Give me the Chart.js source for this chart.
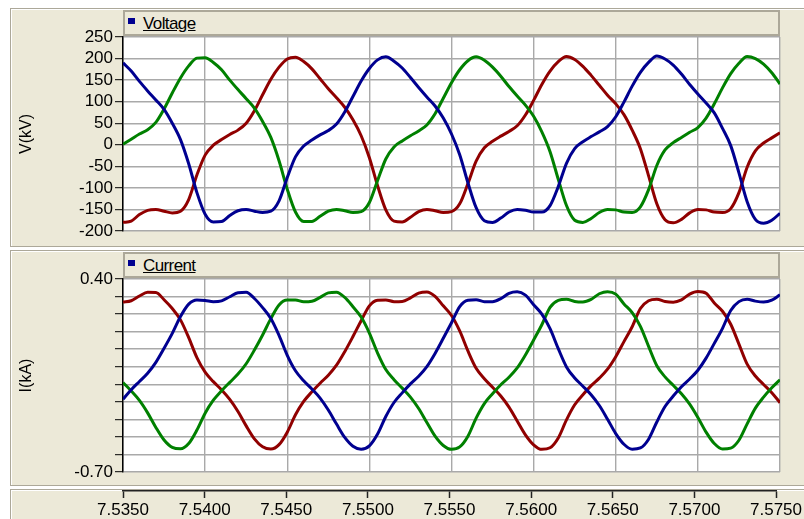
<!DOCTYPE html>
<html>
<head>
<meta charset="utf-8">
<title>Voltage / Current</title>
<script src="https://cdn.jsdelivr.net/npm/chart.js@4.4.1/dist/chart.umd.min.js"></script>
<style>
  html, body { margin: 0; padding: 0; background: #fff; }
  body { width: 804px; height: 519px; position: relative; overflow: hidden; font-family: "Liberation Sans", Arial, sans-serif; }
  .panel { position: absolute; left: 10px; width: 800px; background: #ece9d8; border: 1px solid #aca899; box-shadow: inset 1px 1px 0 #fff; box-sizing: border-box; }
  .legend { position: absolute; left: 123px; width: 657px; height: 26px; box-sizing: border-box; border: 2px solid #aca899; background: #ece9d8; font-size: 17px; color: #000; }
  .legend i { position: absolute; left: 3px; top: 6px; width: 7px; height: 6px; background: #000090; }
  .legend span { position: absolute; left: 18px; top: 2px; text-decoration: underline; letter-spacing: -0.6px; }
  canvas { position: absolute; left: 0; }
</style>
</head>
<body>
<div class="panel" style="top:8px;height:239px"></div>
<div class="panel" style="top:250px;height:236px"></div>
<div class="panel" style="top:489px;height:40px"></div>

<canvas id="voltageChart" width="804" height="250" style="top:0"></canvas>
<canvas id="currentChart" width="804" height="240" style="top:248px"></canvas>
<canvas id="timeAxis" width="804" height="39" style="top:480px"></canvas>

<div class="legend" style="top:10px"><i></i><span>Voltage</span></div>
<div class="legend" style="top:252px"><i></i><span>Current</span></div>

<script>
// time samples (s), every 0.5 ms
const times = [
  7.5350, 7.5355, 7.5360, 7.5365, 7.5370, 7.5375, 7.5380, 7.5385, 7.5390, 7.5395,
  7.5400, 7.5405, 7.5410, 7.5415, 7.5420, 7.5425, 7.5430, 7.5435, 7.5440, 7.5445,
  7.5450, 7.5455, 7.5460, 7.5465, 7.5470, 7.5475, 7.5480, 7.5485, 7.5490, 7.5495,
  7.5500, 7.5505, 7.5510, 7.5515, 7.5520, 7.5525, 7.5530, 7.5535, 7.5540, 7.5545,
  7.5550, 7.5555, 7.5560, 7.5565, 7.5570, 7.5575, 7.5580, 7.5585, 7.5590, 7.5595,
  7.5600, 7.5605, 7.5610, 7.5615, 7.5620, 7.5625, 7.5630, 7.5635, 7.5640, 7.5645,
  7.5650, 7.5655, 7.5660, 7.5665, 7.5670, 7.5675, 7.5680, 7.5685, 7.5690, 7.5695,
  7.5700, 7.5705, 7.5710, 7.5715, 7.5720, 7.5725, 7.5730, 7.5735, 7.5740, 7.5745,
  7.5750
];

// phase voltages (kV)
const voltageBlue = [
  190, 171, 147, 125, 104, 82, 50, 12, -44, -111,
  -161, -179, -178, -164, -153, -150, -154, -157, -154, -130,
  -76, -28, -3, 11, 23, 33, 48, 76, 112, 148,
  177, 197, 204, 194, 178, 156, 133, 111, 90, 62,
  25, -23, -88, -146, -176, -180, -170, -156, -150, -152,
  -156, -156, -141, -97, -43, -9, 7, 19, 30, 42,
  65, 99, 136, 168, 191, 206, 199, 185, 164, 140,
  118, 97, 74, 38, -2, -65, -132, -173, -182, -175,
  -159
];
const voltageGreen = [
  1, 13, 25, 35, 52, 83, 120, 155, 183, 201,
  202, 191, 174, 150, 128, 107, 85, 54, 17, -37,
  -103, -156, -178, -178, -166, -154, -150, -153, -157, -155,
  -134, -83, -33, -5, 9, 21, 32, 46, 72, 108,
  144, 174, 195, 204, 196, 180, 159, 135, 113, 92,
  66, 30, -16, -80, -141, -175, -180, -171, -157, -150,
  -151, -156, -157, -144, -104, -48, -12, 5, 17, 29,
  40, 62, 95, 132, 165, 189, 205, 200, 187, 167,
  141
];
const voltageRed = [
  -180, -177, -162, -152, -150, -154, -158, -154, -127, -70,
  -24, -1, 12, 24, 34, 50, 79, 116, 152, 180,
  199, 203, 193, 176, 153, 130, 109, 87, 58, 21,
  -30, -95, -151, -177, -179, -168, -155, -150, -153, -157,
  -155, -137, -90, -38, -7, 8, 20, 31, 44, 69,
  103, 140, 171, 193, 205, 198, 182, 161, 138, 115,
  95, 70, 34, -9, -72, -137, -174, -181, -173, -158,
  -150, -151, -156, -157, -148, -111, -52, -14, 4, 16,
  28
];

// phase currents (kA)
const currentBlue = [
  -0.285, -0.231, -0.184, -0.137, -0.075, 0.005, 0.090, 0.186, 0.257, 0.281,
  0.278, 0.270, 0.275, 0.299, 0.322, 0.324, 0.289, 0.237, 0.175, 0.079,
  -0.035, -0.123, -0.180, -0.227, -0.279, -0.347, -0.427, -0.503, -0.553, -0.570,
  -0.551, -0.484, -0.384, -0.304, -0.249, -0.198, -0.154, -0.099, -0.024, 0.062,
  0.151, 0.243, 0.279, 0.282, 0.271, 0.271, 0.288, 0.318, 0.327, 0.308,
  0.253, 0.200, 0.117, 0.003, -0.101, -0.164, -0.211, -0.260, -0.321, -0.399,
  -0.481, -0.542, -0.570, -0.563, -0.513, -0.415, -0.327, -0.267, -0.214, -0.170,
  -0.120, -0.051, 0.033, 0.119, 0.220, 0.271, 0.284, 0.274, 0.269, 0.279,
  0.310
];
const currentGreen = [
  -0.190, -0.238, -0.292, -0.363, -0.446, -0.518, -0.560, -0.568, -0.538, -0.461,
  -0.365, -0.291, -0.237, -0.189, -0.142, -0.083, -0.005, 0.081, 0.174, 0.252,
  0.280, 0.280, 0.270, 0.273, 0.295, 0.321, 0.325, 0.295, 0.242, 0.183,
  0.092, -0.022, -0.116, -0.174, -0.222, -0.273, -0.338, -0.418, -0.496, -0.549,
  -0.571, -0.557, -0.496, -0.393, -0.310, -0.254, -0.203, -0.160, -0.107, -0.033,
  0.052, 0.139, 0.238, 0.278, 0.284, 0.272, 0.269, 0.284, 0.316, 0.328,
  0.314, 0.258, 0.208, 0.130, 0.016, -0.094, -0.158, -0.206, -0.254, -0.313,
  -0.389, -0.473, -0.538, -0.569, -0.564, -0.519, -0.426, -0.336, -0.273, -0.220,
  -0.174
];
const currentRed = [
  0.269, 0.276, 0.303, 0.324, 0.323, 0.282, 0.232, 0.167, 0.066, -0.048,
  -0.131, -0.185, -0.232, -0.286, -0.355, -0.437, -0.511, -0.556, -0.569, -0.544,
  -0.473, -0.374, -0.298, -0.243, -0.194, -0.148, -0.091, -0.014, 0.072, 0.162,
  0.247, 0.279, 0.281, 0.271, 0.272, 0.292, 0.319, 0.326, 0.301, 0.247,
  0.192, 0.104, -0.010, -0.109, -0.169, -0.217, -0.267, -0.330, -0.409, -0.488,
  -0.545, -0.571, -0.562, -0.506, -0.403, -0.317, -0.260, -0.208, -0.165, -0.114,
  -0.043, 0.043, 0.128, 0.232, 0.276, 0.285, 0.272, 0.268, 0.281, 0.314,
  0.329, 0.319, 0.263, 0.216, 0.142, 0.029, -0.085, -0.153, -0.201, -0.248,
  -0.305
];

// axis ticks
const timeTicks = [7.5350, 7.5400, 7.5450, 7.5500, 7.5550, 7.5600, 7.5650, 7.5700, 7.5750];
const timeTickLabels = ['7.5350', '7.5400', '7.5450', '7.5500', '7.5550', '7.5600', '7.5650', '7.5700', '7.5750'];
const voltageTicks = [-200, -150, -100, -50, 0, 50, 100, 150, 200, 250];
const voltageTickLabels = ['-200', '-150', '-100', '-50', '0', '50', '100', '150', '200', '250'];
const currentTicks = [-0.70, -0.60, -0.50, -0.40, -0.30, -0.20, -0.10, 0.00, 0.10, 0.20, 0.30, 0.40];
const currentTickLabels = ['-0.70', '', '', '', '', '', '', '', '', '', '', '0.40'];

const PlotBuilder = (() => {
    const FONT = 'Liberation Sans, Arial, sans-serif';
    const GRID = '#a9a9a9';
    const COLORS = { blue: '#000090', green: '#008000', red: '#900000' };

    /** White fill behind the plot area (the panels around it are HTML). */
    const plotBackground = {
        id: 'plotBackground',
        beforeDraw(chart) {
            const { ctx, chartArea: a } = chart;
            ctx.save();
            ctx.fillStyle = '#fff';
            ctx.fillRect(a.left, a.top, a.right - a.left, a.bottom - a.top);
            ctx.restore();
        }
    };

    function points(values) {
        return values.map((v, i) => ({ x: times[i], y: v }));
    }

    function line(values, color) {
        return {
            data: points(values),
            borderColor: color,
            borderWidth: 3,
            pointRadius: 0,
            fill: false,
            cubicInterpolationMode: 'monotone'
        };
    }

    function timeScale(showLabels) {
        return {
            type: 'linear',
            min: timeTicks[0],
            max: timeTicks[timeTicks.length - 1],
            afterBuildTicks: s => { s.ticks = timeTicks.map(v => ({ value: v })); },
            afterFit: s => { s.height = showLabels ? 28 : 0; },
            ticks: {
                display: showLabels,
                color: '#000',
                font: { family: FONT, size: 17 },
                padding: 2,
                maxRotation: 0,
                autoSkip: false,
                callback: (v, i) => timeTickLabels[i]
            },
            grid: showLabels
                ? { drawOnChartArea: false, tickLength: 7, tickColor: '#222', tickWidth: 1.5 }
                : { color: GRID, lineWidth: 1.4, drawTicks: false },
            border: showLabels ? { color: '#222', width: 1.5 } : { display: false }
        };
    }

    function valueScale(ticks, labels, title) {
        return {
            min: ticks[0],
            max: ticks[ticks.length - 1],
            afterBuildTicks: s => { s.ticks = ticks.map(v => ({ value: v })); },
            afterFit: s => { s.width = 113; },
            ticks: {
                color: '#000',
                font: { family: FONT, size: 17 },
                padding: 2,
                autoSkip: false,
                callback: (v, i) => labels[i]
            },
            grid: { color: GRID, lineWidth: 1.4, tickLength: 8, tickColor: '#000', tickWidth: 1 },
            border: { color: '#000', width: 1.5 },
            title: {
                display: true,
                text: title,
                color: '#000',
                font: { family: FONT, size: 16 },
                padding: { top: 7, bottom: 0 }
            }
        };
    }

    function baseOptions(padding, scales) {
        return {
            responsive: false,
            animation: false,
            events: [],
            layout: { padding, autoPadding: false },
            plugins: { legend: { display: false }, tooltip: { enabled: false } },
            scales
        };
    }

    function createPanel(canvasId, series, ticks, labels, title, padding) {
        return new Chart(document.getElementById(canvasId), {
            type: 'line',
            data: {
                datasets: [
                    line(series[0], COLORS.blue),
                    line(series[1], COLORS.green),
                    line(series[2], COLORS.red)
                ]
            },
            options: baseOptions(padding, {
                x: timeScale(false),
                y: valueScale(ticks, labels, title)
            }),
            plugins: [plotBackground]
        });
    }

    function createTimeAxis(canvasId) {
        return new Chart(document.getElementById(canvasId), {
            type: 'line',
            data: { datasets: [] },
            options: baseOptions({ left: 123, right: 24, top: 10, bottom: 0 }, {
                x: timeScale(true),
                y: { display: false, min: 0, max: 1 }
            })
        });
    }

    return { createPanel, createTimeAxis };
})();

PlotBuilder.createPanel('voltageChart', [voltageBlue, voltageGreen, voltageRed],
    voltageTicks, voltageTickLabels, 'V(kV)', { left: 10, right: 24, top: 37, bottom: 19 });
PlotBuilder.createPanel('currentChart', [currentBlue, currentGreen, currentRed],
    currentTicks, currentTickLabels, 'I(kA)', { left: 10, right: 24, top: 31, bottom: 16 });
PlotBuilder.createTimeAxis('timeAxis');
</script>
</body>
</html>
